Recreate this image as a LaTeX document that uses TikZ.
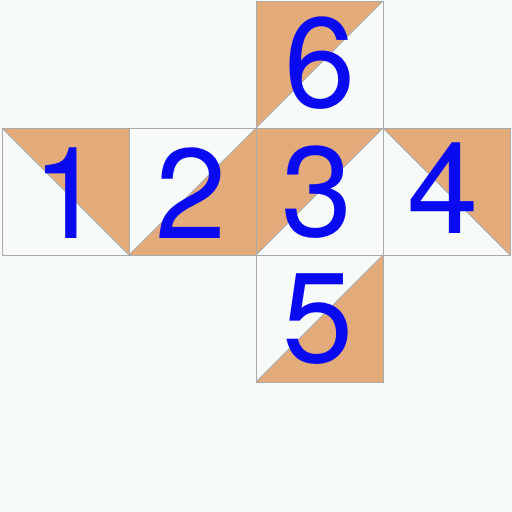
\documentclass[tikz,border=0pt]{standalone}
\usepackage{fontspec}
\setmainfont{TeX Gyre Heros}
\usetikzlibrary{positioning}
\definecolor{paper}{HTML}{F6FAF8}
\definecolor{tan}{HTML}{E3AA7A}
\definecolor{edge}{HTML}{AAAAAA}
\definecolor{digit}{HTML}{0A0AF0}

\begin{document}
\begin{tikzpicture}[
  x=1pt, y=-1pt,
  node distance=0pt,
  face/.style={rectangle, minimum size=127pt, inner sep=0pt, outer sep=0pt},
  half/.style={fill=tan},
  rim/.style={draw=edge, line width=0.8pt},
  num/.style={anchor=base, text=digit, inner sep=0pt,
              font=\fontsize{128}{128}\selectfont}
]
\fill[paper] (0,0) rectangle (512,512);
\useasboundingbox (0,0) rectangle (512,512);

% the net
\node[face] (f1) at (65.5,191.5) {};
\node[face, right=of f1] (f2) {};
\node[face, right=of f2] (f3) {};
\node[face, right=of f3] (f4) {};
\node[face, above=of f3] (f6) {};
\node[face, below=of f3] (f5) {};

% coloured halves
\fill[half] (f1.north west) -- (f1.north east) -- (f1.south east) -- cycle;
\fill[half] (f2.south west) -- (f2.north east) -- (f2.south east) -- cycle;
\fill[half] (f3.south west) -- (f3.north west) -- (f3.north east) -- cycle;
\fill[half] (f4.north west) -- (f4.north east) -- (f4.south east) -- cycle;
\fill[half] (f6.south west) -- (f6.north west) -- (f6.north east) -- cycle;
\fill[half] (f5.south west) -- (f5.north east) -- (f5.south east) -- cycle;

% outlines and diagonals
\foreach \f in {f1,f2,f3,f4,f5,f6}
  \draw[rim] (\f.north west) rectangle (\f.south east);
\draw[rim] (f1.north west) -- (f1.south east);
\draw[rim] (f2.south west) -- (f2.north east);
\draw[rim] (f3.south west) -- (f3.north east);
\draw[rim] (f4.north west) -- (f4.south east);
\draw[rim] (f6.south west) -- (f6.north east);
\draw[rim] (f5.south west) -- (f5.north east);

% labels
\node[num] (n1) at (68,238) {1};
\node[num] (n2) at (191,238) {2};
\node[num] (n3) at (317,236) {3};
\node[num] (n4) at (443,233) {4};
\node[num] (n6) at (320,107) {6};
\node[num] (n5) at (318,362) {5};
\end{tikzpicture}
\end{document}
